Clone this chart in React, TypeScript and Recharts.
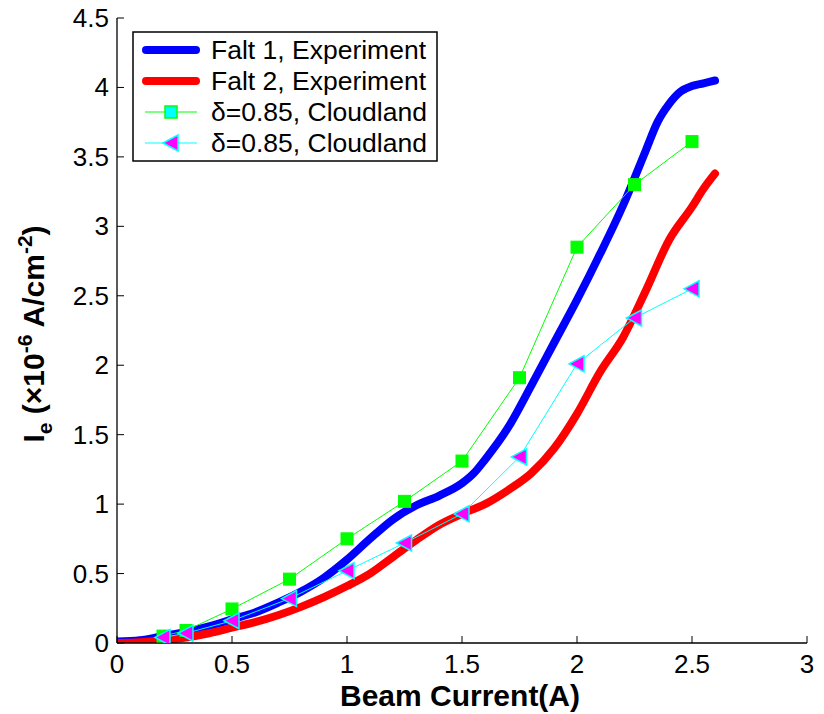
import React from "react";
import { LineChart, Line, XAxis, YAxis } from "recharts";

const falt1X = [0, 0.1, 0.2, 0.3, 0.4, 0.5, 0.6, 0.7, 0.8, 0.9, 1.0, 1.1, 1.2, 1.3, 1.4, 1.5, 1.55, 1.6, 1.7, 1.8, 1.9, 2.0, 2.1, 2.2, 2.3, 2.35, 2.4, 2.45, 2.5, 2.55, 2.6];
const falt1Y = [0.01, 0.02, 0.05, 0.08, 0.12, 0.17, 0.22, 0.29, 0.37, 0.47, 0.6, 0.75, 0.89, 0.99, 1.06, 1.15, 1.22, 1.32, 1.55, 1.85, 2.16, 2.47, 2.8, 3.15, 3.55, 3.75, 3.88, 3.97, 4.01, 4.03, 4.05];

const falt2X = [0, 0.1, 0.2, 0.3, 0.4, 0.5, 0.6, 0.7, 0.8, 0.9, 1.0, 1.1, 1.2, 1.3, 1.4, 1.5, 1.6, 1.7, 1.8, 1.9, 2.0, 2.1, 2.2, 2.3, 2.4, 2.5, 2.55, 2.6];
const falt2Y = [0.0, 0.005, 0.02, 0.04, 0.07, 0.11, 0.15, 0.2, 0.26, 0.33, 0.41, 0.5, 0.62, 0.74, 0.85, 0.93, 1.0, 1.1, 1.22, 1.4, 1.65, 1.95, 2.2, 2.54, 2.9, 3.14, 3.27, 3.38];

const simX = [0.2, 0.3, 0.5, 0.75, 1.0, 1.25, 1.5, 1.75, 2.0, 2.25, 2.5];
const simSquareY = [0.05, 0.09, 0.245, 0.46, 0.75, 1.02, 1.31, 1.91, 2.85, 3.3, 3.61];
const simTriangleY = [0.04, 0.07, 0.16, 0.32, 0.52, 0.72, 0.93, 1.34, 2.01, 2.34, 2.55];

const xTicks = [0, 0.5, 1, 1.5, 2, 2.5, 3];
const yTicks = [0, 0.5, 1, 1.5, 2, 2.5, 3, 3.5, 4, 4.5];

const legendLabels = ["Falt 1, Experiment", "Falt 2, Experiment", "\u03b4=0.85, Cloudland", "\u03b4=0.85, Cloudland"];

const zip = (xs: number[], ys: number[]) => xs.map((x, i) => ({ x, y: ys[i] }));
const falt1Data = zip(falt1X, falt1Y);
const falt2Data = zip(falt2X, falt2Y);
const squareData = zip(simX, simSquareY);
const triangleData = zip(simX, simTriangleY);

const FONT = "'Liberation Sans', Arial, Helvetica, sans-serif";
const TICK = 7;
const TICK_FONT = 26;

const BottomTick = (props: any) => {
  const { x, y, payload } = props;
  return (
    <g>
      <line x1={x} x2={x} y1={y} y2={y - TICK} stroke="#000" strokeWidth={1} />
      <text x={x} y={y + 30} textAnchor="middle" fontSize={TICK_FONT} fontFamily={FONT} fill="#000">
        {String(payload.value)}
      </text>
    </g>
  );
};
const TopTick = (props: any) => {
  const { x, y } = props;
  return <line x1={x} x2={x} y1={y} y2={y + TICK} stroke="#000" strokeWidth={1} />;
};
const LeftTick = (props: any) => {
  const { x, y, payload } = props;
  return (
    <g>
      <line x1={x} x2={x + TICK} y1={y} y2={y} stroke="#000" strokeWidth={1} />
      <text x={x - 8} y={y + 9} textAnchor="end" fontSize={TICK_FONT} fontFamily={FONT} fill="#000">
        {String(payload.value)}
      </text>
    </g>
  );
};
const RightTick = (props: any) => {
  const { x, y } = props;
  return <line x1={x} x2={x - TICK} y1={y} y2={y} stroke="#000" strokeWidth={1} />;
};

const SquareDot = (props: any) => {
  const { cx, cy, index } = props;
  if (cx == null || cy == null) return <g key={index} />;
  return <rect key={index} x={cx - 6} y={cy - 6} width={12} height={12} fill="#00ff00" stroke="#00ff00" strokeWidth={1} />;
};
const TriangleDot = (props: any) => {
  const { cx, cy, index } = props;
  if (cx == null || cy == null) return <g key={index} />;
  return (
    <polygon
      key={index}
      points={`${cx - 8},${cy} ${cx + 7},${cy - 8} ${cx + 7},${cy + 8}`}
      fill="#ff00ff"
      stroke="#00ffff"
      strokeWidth={1.5}
    />
  );
};

const YLabel = () => (
  <text
    transform="translate(44,334) rotate(-90)"
    textAnchor="middle"
    fontSize={30}
    fontWeight="bold"
    fontFamily={FONT}
    fill="#000"
  >
    <tspan>I</tspan>
    <tspan fontSize={21} dy={8}>e</tspan>
    <tspan dy={-8}> (×10</tspan>
    <tspan fontSize={21} dy={-12}>-6</tspan>
    <tspan dy={12}> A/cm</tspan>
    <tspan fontSize={21} dy={-12}>-2</tspan>
    <tspan dy={12}>)</tspan>
  </text>
);

const XLabel = () => (
  <text x={460} y={706} textAnchor="middle" fontSize={30} fontWeight="bold" fontFamily={FONT} fill="#000">
    Beam Current(A)
  </text>
);

const LegendBox = () => {
  const rows = [50, 81, 112, 143];
  return (
    <svg width={824} height={714} style={{ position: "absolute", left: 0, top: 0, pointerEvents: "none" }}>
      <rect x={133} y={32} width={304} height={129} fill="#fff" stroke="#000" strokeWidth={1.5} />
      <line x1={146} x2={196} y1={rows[0]} y2={rows[0]} stroke="#0000ff" strokeWidth={8} strokeLinecap="round" />
      <line x1={146} x2={196} y1={rows[1]} y2={rows[1]} stroke="#ff0000" strokeWidth={8} strokeLinecap="round" />
      <line x1={145} x2={197} y1={rows[2]} y2={rows[2]} stroke="#00ff00" strokeWidth={1} />
      <rect x={165} y={rows[2] - 6} width={12} height={12} fill="#00ffff" stroke="#00ff00" strokeWidth={1.5} />
      <line x1={145} x2={197} y1={rows[3]} y2={rows[3]} stroke="#00ffff" strokeWidth={1} />
      <polygon
        points={`${163},${rows[3]} ${178},${rows[3] - 8} ${178},${rows[3] + 8}`}
        fill="#ff00ff"
        stroke="#00ffff"
        strokeWidth={1.5}
      />
      {legendLabels.map((t, i) => (
        <text key={i} x={211} y={rows[i] + 9} fontSize={26.5} fontFamily={FONT} fill="#000">
          {t}
        </text>
      ))}
    </svg>
  );
};

export default function App() {
  return (
    <div style={{ position: "relative", width: 824, height: 714, background: "#fff" }}>
      <style>{`body{margin:0;background:#fff}`}</style>
      <LineChart width={824} height={714} margin={{ top: 18, right: 17, left: 0, bottom: 0 }}>
        <XAxis
          xAxisId="b"
          dataKey="x"
          type="number"
          domain={[0, 3]}
          ticks={xTicks}
          allowDataOverflow
          height={71}
          tickSize={0}
          tickMargin={0}
          tickLine={false}
          axisLine={{ stroke: "#000", strokeWidth: 1.3 }}
          tick={<BottomTick />}
          interval={0}
          label={<XLabel />}
        />
        <XAxis
          xAxisId="t"
          orientation="top"
          dataKey="x"
          type="number"
          domain={[0, 3]}
          ticks={xTicks}
          height={0}
          tickSize={0}
          tickMargin={0}
          tickLine={false}
          axisLine={{ stroke: "#000", strokeWidth: 1.3 }}
          tick={<TopTick />}
          interval={0}
        />
        <YAxis
          yAxisId="l"
          type="number"
          domain={[0, 4.5]}
          ticks={yTicks}
          allowDataOverflow
          width={117}
          tickSize={0}
          tickMargin={0}
          tickLine={false}
          axisLine={{ stroke: "#000", strokeWidth: 1.3 }}
          tick={<LeftTick />}
          interval={0}
          label={<YLabel />}
        />
        <YAxis
          yAxisId="r"
          orientation="right"
          type="number"
          domain={[0, 4.5]}
          ticks={yTicks}
          width={0}
          tickSize={0}
          tickMargin={0}
          tickLine={false}
          axisLine={{ stroke: "#000", strokeWidth: 1.3 }}
          tick={<RightTick />}
          interval={0}
        />
        <Line
          xAxisId="b"
          yAxisId="l"
          data={falt1Data}
          dataKey="y"
          type="monotone"
          stroke="#0000ff"
          strokeWidth={8}
          strokeLinecap="round"
          strokeLinejoin="round"
          dot={false}
          isAnimationActive={false}
        />
        <Line
          xAxisId="b"
          yAxisId="l"
          data={falt2Data}
          dataKey="y"
          type="monotone"
          stroke="#ff0000"
          strokeWidth={8}
          strokeLinecap="round"
          strokeLinejoin="round"
          dot={false}
          isAnimationActive={false}
        />
        <Line
          xAxisId="b"
          yAxisId="l"
          data={squareData}
          dataKey="y"
          type="linear"
          stroke="#00ff00"
          strokeWidth={1}
          dot={<SquareDot />}
          isAnimationActive={false}
        />
        <Line
          xAxisId="b"
          yAxisId="l"
          data={triangleData}
          dataKey="y"
          type="linear"
          stroke="#00ffff"
          strokeWidth={1}
          dot={<TriangleDot />}
          isAnimationActive={false}
        />
      </LineChart>
      <LegendBox />
    </div>
  );
}
